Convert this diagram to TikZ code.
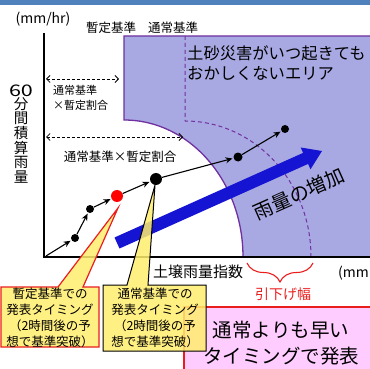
\documentclass[tikz,border=0pt]{standalone}
\usepackage{fontspec}
\setmainfont{Noto Sans CJK JP}
\usetikzlibrary{arrows.meta,decorations.pathreplacing}
\definecolor{topbar}{RGB}{79,129,189}
\definecolor{zone}{RGB}{168,168,226}
\definecolor{zoneedge}{RGB}{112,48,160}
\definecolor{bluearr}{RGB}{20,20,210}
\definecolor{callyel}{RGB}{255,238,110}
\definecolor{pinkbox}{RGB}{255,204,255}
\definecolor{redline}{RGB}{235,30,30}
\newcommand{\fs}[2]{\fontsize{#1}{#2}\selectfont}
\begin{document}
\begin{tikzpicture}[x=1pt,y=-1pt,
  dimarrow/.style={dashed, dash pattern=on 3pt off 2pt, line width=0.8pt,
     {Straight Barb[length=3.5pt,width=7pt]}-{Straight Barb[length=3.5pt,width=7pt]}},
  dataarrow/.style={line width=1.1pt, -{Stealth[length=7pt,width=6pt]}, shorten >=1pt},
  dot/.style={circle, fill=black, inner sep=0pt, minimum size=#1},
  reddot/.style={circle, fill=red, inner sep=0pt, minimum size=#1},
  lbl/.style={inner sep=0pt, text=black},
  boxtext/.style={inner sep=0pt, align=center, font=\fs{12.5}{16}}
]
\useasboundingbox (0,0) rectangle (370,369);
\clip (0,0) rectangle (370,369);
\fill[white] (0,0) rectangle (370,369);
\fill[topbar] (0,0) rectangle (370,5);

% danger zone
\fill[zone] (124,36) -- (124,120) arc[start angle=-90,end angle=0,x radius=119,y radius=137] -- (372,257) -- (372,36) -- cycle;
\draw[zoneedge, line width=1.3pt] (372,36) -- (124,36) -- (124,120) arc[start angle=-90,end angle=0,x radius=119,y radius=137];
\draw[zoneedge, line width=1pt, dash pattern=on 4pt off 3pt] (185,36) -- (185,121) arc[start angle=-90,end angle=0,x radius=126,y radius=136];

% axes
\coordinate (ytop) at (44,33);
\coordinate (org) at (44,257);
\coordinate (xend) at (372,257);
\draw[line width=2.2pt] (ytop) -- (org) -- (xend);

% dimension arrows
\coordinate (d1a) at (46,79);
\coordinate (d1b) at (119,79);
\coordinate (d2a) at (46,137);
\coordinate (d2b) at (183,137);
\draw[dimarrow] (d1a) -- (d1b);
\draw[dimarrow] (d2a) -- (d2b);

% blue arrow
\fill[bluearr] (119.5,248.5) -- (308.1,163.9) -- (310.5,169.3) -- (322,151) -- (300.7,147.5) -- (303.1,152.9) -- (114.5,237.5) -- cycle;

% data points
\coordinate (p0) at (46,256);
\node[dot=8pt] (p1) at (75,238) {};
\node[dot=8pt] (p2) at (90,209) {};
\node[reddot=12pt] (p3) at (117,196) {};
\node[dot=12pt] (p4) at (156,179) {};
\node[dot=9pt] (p5) at (238,157) {};
\node[dot=8pt] (p6) at (285,129) {};
\draw[dataarrow] (p0) -- (p1);
\draw[dataarrow] (p1) -- (p2);
\draw[dataarrow] (p2) -- (p3);
\draw[dataarrow] (p3) -- (p4);
\draw[dataarrow] (p4) -- (p5);
\draw[dataarrow] (p5) -- (p6);

% pink box
\fill[pinkbox] (184,307) rectangle (372,372);
\draw[redline, line width=1.2pt] (184,372) -- (184,307) -- (372,307);

% callouts
\filldraw[fill=callyel, fill opacity=0.85, draw=redline, line width=1.2pt, line join=miter]
  (1,287) -- (58,287) -- (118,208) -- (83,287) -- (99,287) -- (99,347) -- (1,347) -- cycle;
\filldraw[fill=callyel, fill opacity=0.85, draw=black, line width=1pt, line join=miter]
  (103,285) -- (127,285) -- (155,185) -- (148,285) -- (206,285) -- (206,351) -- (103,351) -- cycle;

% brace
\draw[redline, line width=1.1pt, decorate, decoration={brace, amplitude=19pt, mirror}] (247,263) -- (313,263);

% texts
\node[lbl, font=\fs{14}{14}] (unity) at (43,19) {(mm/hr)};
\node[lbl, font=\fs{12.5}{12.5}] (zan) at (111,28) {暫定基準};
\node[lbl, font=\fs{12.5}{12.5}] (tsu) at (173,28) {通常基準};
\node[lbl, font=\fs{16}{16}] (sixty) at (21,91) {\scalebox{1.35}[1]{60}};
\node[lbl, align=center, font=\fs{14.5}{14.7}, anchor=north] (ylab) at (21,97) {分\\間\\積\\算\\雨\\量};
\node[lbl, align=left, anchor=north west, font=\fs{11}{15.5}] (dl1) at (53,85) {通常基準\\×暫定割合};
\node[lbl, font=\fs{12.5}{12.5}] (dl2) at (120,157) {通常基準×暫定割合};
\node[lbl, align=left, anchor=north west, font=\fs{16.3}{19.5}] (zonet) at (187,46) {土砂災害がいつ起きても\\おかしくないエリア};
\node[lbl, font=\fs{19.5}{19.5}, rotate=24] (rain) at (299,194) {雨量の増加};
\node[lbl, font=\fs{15}{15}, anchor=west] (xlab) at (153,272) {土壌雨量指数};
\node[lbl, font=\fs{14}{14}, anchor=west] (unitx) at (338,273) {(mm};
\node[lbl, font=\fs{14}{14}, text=redline] (hiki) at (283,294) {引下げ幅};
\node[boxtext] (b1) at (50,318) {暫定基準での\\発表タイミング\\（2時間後の予\\想で基準突破）};
\node[boxtext] (b2) at (155,318) {通常基準での\\発表タイミング\\（2時間後の予\\想で基準突破）};
\node[lbl, align=center, font=\fs{19.5}{26}] (early) at (281,343) {通常よりも早い\\タイミングで発表};
\end{tikzpicture}
\end{document}
